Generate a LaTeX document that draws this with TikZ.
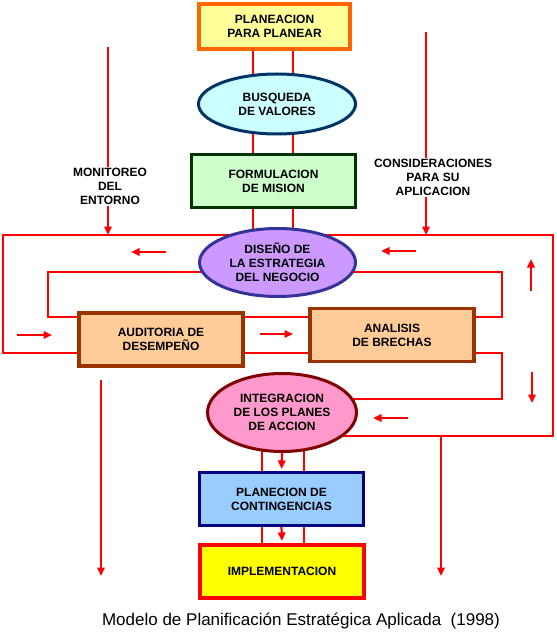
\documentclass[tikz,border=0pt]{standalone}
\usepackage{fontspec}
\setmainfont{Liberation Sans}
\usetikzlibrary{arrows.meta,positioning,backgrounds,shapes.geometric}

\definecolor{planFill}{HTML}{FFFF99}
\definecolor{planEdge}{HTML}{FF6600}
\definecolor{busqFill}{HTML}{CCFFFF}
\definecolor{busqEdge}{HTML}{003366}
\definecolor{formFill}{HTML}{CCFFCC}
\definecolor{formEdge}{HTML}{003300}
\definecolor{disFill}{HTML}{CC99FF}
\definecolor{disEdge}{HTML}{333399}
\definecolor{audFill}{HTML}{FFCC99}
\definecolor{audEdge}{HTML}{993300}
\definecolor{intFill}{HTML}{FF99CC}
\definecolor{intEdge}{HTML}{800000}
\definecolor{contFill}{HTML}{99CCFF}
\definecolor{contEdge}{HTML}{000080}
\definecolor{implFill}{HTML}{FFFF00}
\definecolor{implEdge}{HTML}{FF0000}

\begin{document}
\begin{tikzpicture}[
  x=1pt, y=-1pt,
  font=\fontsize{12}{14.2}\selectfont\bfseries,
  >={Triangle[length=8.5pt,width=7.5pt]},
  box/.style ={draw, align=center, inner sep=2pt, minimum width=164pt, minimum height=53pt, line width=3.5pt},
  oval/.style={draw, ellipse, align=center, inner sep=0pt, line width=3pt},
  lbl/.style ={align=center, inner sep=1pt},
  lnk/.style ={red, line width=2.2pt},
  flow/.style={lnk, ->},
]
\useasboundingbox (0,0) rectangle (556,636);

%% ---------------- main column ----------------
\node[box, fill=planFill, draw=planEdge, line width=4pt, minimum width=151pt, minimum height=45pt] (plan) at (274.5,26.5)
  {PLANEACION\\PARA PLANEAR};
\node[oval, fill=busqFill, draw=busqEdge, minimum width=157pt, minimum height=60pt] (busq) at (277,104)
  {BUSQUEDA\\DE VALORES};
\node[box, fill=formFill, draw=formEdge] (form) at (273.5,181)
  {FORMULACION\\DE MISION};
\node[oval, fill=disFill, draw=disEdge, minimum width=156pt, minimum height=68pt] (dis) at (277.5,262.5)
  {DISEÑO DE\\LA ESTRATEGIA\\DEL NEGOCIO};
\node[box, fill=audFill, draw=audEdge] (aud) at (161,339.5)
  {AUDITORIA DE\\DESEMPEÑO};
\node[box, fill=audFill, draw=audEdge] (ana) at (392,335)
  {ANALISIS\\DE BRECHAS};
\node[oval, fill=intFill, draw=intEdge, minimum width=149pt, minimum height=78pt] (integ) at (282,412.5)
  {INTEGRACION\\DE LOS PLANES\\DE ACCION};
\node[box, fill=contFill, draw=contEdge, line width=3pt] (cont) at (281.5,499)
  {PLANECION DE\\CONTINGENCIAS};
\node[box, fill=implFill, draw=implEdge, line width=4pt] (impl) at (282,571.5)
  {IMPLEMENTACION};

%% ---------------- side labels ----------------
\node[lbl] (mon) at (110,186.5) {MONITOREO\\DEL\\ENTORNO};
\node[lbl] (cons) at (433,177.5) {CONSIDERACIONES\\PARA SU\\APLICACION};

\node[font=\fontsize{17}{19}\selectfont] (title) at (301,621)
  {Modelo de Planificación Estratégica Aplicada\ \ (1998)};

%% ---------------- connectors ----------------
\coordinate (colL) at (253,0);
\coordinate (colR) at (293,0);
\coordinate (lowL) at (262,0);
\coordinate (lowR) at (304,0);
\coordinate (outerNW) at (3,235);
\coordinate (outerNE) at (553,235);
\coordinate (outerSW) at (3,353);
\coordinate (outerSE) at (553,436);
\coordinate (innerNW) at (48,272);
\coordinate (innerSE) at (502,317);
\coordinate (loopNE) at (502,353);
\coordinate (loopSE) at (502,399);
\coordinate (monTop) at (108,47);
\coordinate (consTop) at (426,32);

\begin{scope}[on background layer]
  \foreach \c in {colL,colR}{
    \draw[lnk] (plan -| \c) -- (busq -| \c);
    \draw[lnk] (busq -| \c) -- (form -| \c);
    \draw[lnk] (form -| \c) -- (dis -| \c);
  }
  \foreach \c in {lowL,lowR}{
    \draw[lnk] (integ -| \c) -- (cont -| \c);
    \draw[lnk] (cont -| \c) -- (impl -| \c);
  }
  \draw[lnk] (innerNW) rectangle (innerSE);
  \draw[lnk] (integ |- loopSE) -- (loopSE) -- (loopNE) -- (outerSW) -- (outerNW)
    -- (outerNE) -- (outerSE) -- (integ |- outerSE);
\end{scope}

\draw[flow, shorten >=2pt] (integ.south) -- (cont.north);
\draw[flow, shorten >=2pt] (cont.south) -- (impl.north);

\draw[lnk] (monTop) -- (monTop |- mon.north);
\draw[flow] (monTop |- mon.south) -- (monTop |- outerNW);
\draw[lnk] (consTop) -- (consTop |- cons.north);
\draw[flow] (consTop |- cons.south) -- (consTop |- outerNE);

%% direction marks
\foreach \a/\b in {{166,252}/{131,252}, {416,251}/{381,251}, {531,291}/{531,259},
                   {532,372}/{532,403}, {408,418}/{373,418}, {17,335}/{52,335},
                   {260,334}/{293,334}, {101,380}/{101,576}, {441,436}/{441,576}}
  \draw[flow] (\a) -- (\b);

\end{tikzpicture}
\end{document}
